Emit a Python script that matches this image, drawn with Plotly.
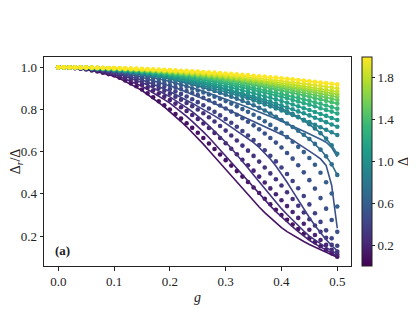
import plotly.graph_objects as go
from plotly.colors import sample_colorscale

g = [0.00, 0.01, 0.02, 0.03, 0.04, 0.05, 0.06, 0.07, 0.08, 0.09,
     0.10, 0.11, 0.12, 0.13, 0.14, 0.15, 0.16, 0.17, 0.18, 0.19,
     0.20, 0.21, 0.22, 0.23, 0.24, 0.25, 0.26, 0.27, 0.28, 0.29,
     0.30, 0.31, 0.32, 0.33, 0.34, 0.35, 0.36, 0.37, 0.38, 0.39,
     0.40, 0.41, 0.42, 0.43, 0.44, 0.45, 0.46, 0.47, 0.48, 0.49, 0.50]

delta = [0.1, 0.2, 0.3, 0.4, 0.5, 0.6, 0.7, 0.8, 0.9, 1.0,
         1.1, 1.2, 1.3, 1.4, 1.5, 1.6, 1.7, 1.8, 1.9, 2.0]

# numerical results (dots), one list per Delta
d01 = [1.000,1.000,0.998,0.996,0.993,0.990,0.985,0.980,0.974,0.968,0.962,0.951,0.938,0.924,0.910,0.895,0.877,0.858,0.839,0.820,0.800,0.779,0.757,0.735,0.713,0.690,0.665,0.639,0.613,0.587,0.560,0.534,0.508,0.482,0.456,0.430,0.404,0.377,0.351,0.325,0.300,0.277,0.255,0.233,0.211,0.190,0.171,0.152,0.135,0.118,0.102]
d02 = [1.000,1.000,0.999,0.997,0.995,0.993,0.989,0.985,0.980,0.974,0.968,0.960,0.951,0.941,0.930,0.918,0.904,0.890,0.876,0.861,0.845,0.828,0.811,0.793,0.774,0.755,0.734,0.712,0.689,0.665,0.640,0.614,0.588,0.562,0.536,0.510,0.482,0.454,0.426,0.398,0.370,0.342,0.314,0.286,0.258,0.230,0.205,0.181,0.158,0.135,0.112]
d03 = [1.000,1.000,0.999,0.998,0.996,0.994,0.991,0.988,0.984,0.979,0.974,0.968,0.961,0.953,0.944,0.935,0.925,0.914,0.902,0.889,0.875,0.861,0.846,0.831,0.816,0.800,0.782,0.763,0.743,0.722,0.700,0.677,0.653,0.629,0.605,0.580,0.553,0.525,0.497,0.469,0.440,0.408,0.376,0.344,0.312,0.280,0.250,0.220,0.192,0.158,0.126]
d04 = [1.000,1.000,0.999,0.998,0.997,0.995,0.993,0.990,0.986,0.982,0.978,0.973,0.967,0.960,0.953,0.945,0.936,0.927,0.918,0.908,0.897,0.886,0.874,0.862,0.849,0.835,0.820,0.805,0.789,0.772,0.755,0.737,0.718,0.698,0.677,0.655,0.632,0.607,0.581,0.554,0.525,0.494,0.461,0.427,0.390,0.350,0.308,0.267,0.227,0.189,0.154]
d05 = [1.000,1.000,0.999,0.998,0.997,0.996,0.994,0.992,0.989,0.986,0.982,0.978,0.973,0.967,0.961,0.955,0.948,0.940,0.932,0.924,0.915,0.906,0.897,0.888,0.878,0.868,0.856,0.844,0.832,0.819,0.805,0.790,0.775,0.759,0.742,0.725,0.706,0.686,0.665,0.643,0.620,0.594,0.567,0.536,0.502,0.465,0.425,0.380,0.330,0.276,0.220]
d06 = [1.000,1.000,0.999,0.999,0.998,0.997,0.995,0.993,0.991,0.988,0.985,0.981,0.977,0.973,0.968,0.963,0.957,0.951,0.945,0.939,0.932,0.924,0.916,0.908,0.899,0.890,0.881,0.871,0.861,0.851,0.840,0.828,0.815,0.802,0.789,0.775,0.760,0.744,0.727,0.709,0.690,0.669,0.647,0.623,0.598,0.570,0.538,0.500,0.455,0.402,0.340]
d07 = [1.000,1.000,0.999,0.999,0.998,0.997,0.996,0.994,0.992,0.990,0.988,0.985,0.982,0.978,0.974,0.970,0.966,0.961,0.956,0.951,0.945,0.939,0.933,0.926,0.919,0.912,0.904,0.896,0.888,0.879,0.870,0.861,0.851,0.841,0.831,0.820,0.808,0.795,0.781,0.766,0.750,0.734,0.717,0.699,0.680,0.660,0.637,0.610,0.578,0.540,0.490]
d08 = [1.000,1.000,1.000,0.999,0.999,0.998,0.997,0.995,0.994,0.992,0.990,0.988,0.985,0.982,0.979,0.975,0.971,0.967,0.964,0.960,0.955,0.950,0.945,0.940,0.934,0.928,0.922,0.915,0.909,0.902,0.895,0.887,0.879,0.871,0.863,0.855,0.846,0.836,0.826,0.816,0.805,0.792,0.779,0.765,0.748,0.730,0.710,0.688,0.662,0.630,0.590]
d09 = [1.000,1.000,0.999,0.999,0.998,0.997,0.995,0.994,0.992,0.990,0.987,0.984,0.982,0.978,0.975,0.971,0.967,0.963,0.958,0.954,0.949,0.943,0.938,0.932,0.926,0.920,0.913,0.906,0.899,0.892,0.884,0.877,0.869,0.860,0.852,0.843,0.834,0.824,0.815,0.805,0.795,0.784,0.774,0.763,0.751,0.740,0.728,0.716,0.704,0.692,0.679]
d10 = [1.000,1.000,1.000,0.999,0.998,0.997,0.996,0.994,0.993,0.991,0.989,0.986,0.984,0.981,0.978,0.975,0.971,0.967,0.963,0.959,0.955,0.950,0.945,0.940,0.935,0.930,0.924,0.918,0.912,0.905,0.898,0.892,0.884,0.877,0.870,0.862,0.854,0.846,0.837,0.828,0.820,0.810,0.801,0.791,0.782,0.772,0.761,0.751,0.740,0.729,0.718]
d11 = [1.000,1.000,1.000,0.999,0.998,0.998,0.996,0.995,0.994,0.992,0.990,0.988,0.986,0.983,0.980,0.978,0.974,0.971,0.968,0.964,0.960,0.956,0.952,0.947,0.942,0.938,0.932,0.927,0.922,0.916,0.910,0.904,0.898,0.891,0.884,0.878,0.870,0.863,0.856,0.848,0.840,0.832,0.824,0.815,0.806,0.798,0.788,0.779,0.770,0.760,0.750]
d12 = [1.000,1.000,1.000,0.999,0.999,0.998,0.997,0.996,0.994,0.993,0.991,0.989,0.987,0.985,0.983,0.980,0.978,0.975,0.972,0.968,0.965,0.961,0.958,0.954,0.950,0.945,0.941,0.936,0.931,0.926,0.921,0.916,0.910,0.905,0.899,0.893,0.886,0.880,0.874,0.867,0.860,0.853,0.845,0.838,0.830,0.823,0.815,0.806,0.798,0.790,0.781]
d13 = [1.000,1.000,1.000,0.999,0.999,0.998,0.997,0.996,0.995,0.994,0.992,0.991,0.989,0.987,0.985,0.982,0.980,0.977,0.975,0.972,0.969,0.965,0.962,0.959,0.955,0.951,0.947,0.943,0.939,0.934,0.929,0.925,0.920,0.915,0.909,0.904,0.898,0.893,0.887,0.881,0.875,0.868,0.862,0.855,0.848,0.841,0.834,0.827,0.819,0.812,0.804]
d14 = [1.000,1.000,1.000,0.999,0.999,0.998,0.998,0.997,0.996,0.994,0.993,0.992,0.990,0.988,0.987,0.985,0.982,0.980,0.978,0.975,0.972,0.970,0.967,0.964,0.960,0.957,0.953,0.950,0.946,0.942,0.938,0.934,0.930,0.925,0.920,0.916,0.911,0.906,0.901,0.895,0.890,0.884,0.879,0.873,0.867,0.861,0.854,0.848,0.841,0.835,0.828]
d15 = [1.000,1.000,1.000,0.999,0.999,0.998,0.998,0.997,0.996,0.995,0.994,0.993,0.991,0.990,0.988,0.986,0.984,0.982,0.980,0.978,0.975,0.973,0.970,0.967,0.964,0.961,0.958,0.955,0.951,0.948,0.944,0.940,0.937,0.932,0.928,0.924,0.920,0.915,0.910,0.906,0.901,0.896,0.891,0.885,0.880,0.874,0.869,0.863,0.857,0.851,0.845]
d16 = [1.000,1.000,1.000,0.999,0.999,0.999,0.998,0.997,0.996,0.995,0.994,0.993,0.992,0.990,0.989,0.987,0.986,0.984,0.982,0.980,0.977,0.975,0.973,0.970,0.968,0.965,0.962,0.959,0.956,0.953,0.949,0.946,0.942,0.939,0.935,0.931,0.927,0.923,0.919,0.914,0.910,0.905,0.901,0.896,0.891,0.886,0.881,0.875,0.870,0.865,0.859]
d17 = [1.000,1.000,1.000,1.000,0.999,0.999,0.998,0.997,0.997,0.996,0.995,0.994,0.993,0.991,0.990,0.988,0.987,0.985,0.983,0.982,0.980,0.977,0.975,0.973,0.971,0.968,0.965,0.963,0.960,0.957,0.954,0.951,0.948,0.944,0.941,0.937,0.934,0.930,0.926,0.922,0.918,0.914,0.910,0.905,0.901,0.896,0.892,0.887,0.882,0.877,0.872]
d18 = [1.000,1.000,1.000,1.000,0.999,0.999,0.998,0.998,0.997,0.996,0.995,0.994,0.993,0.992,0.991,0.990,0.988,0.987,0.985,0.983,0.981,0.980,0.978,0.975,0.973,0.971,0.969,0.966,0.964,0.961,0.958,0.955,0.952,0.949,0.946,0.943,0.940,0.936,0.933,0.929,0.926,0.922,0.918,0.914,0.910,0.906,0.902,0.898,0.893,0.889,0.884]
d19 = [1.000,1.000,1.000,1.000,0.999,0.999,0.999,0.998,0.997,0.997,0.996,0.995,0.994,0.993,0.992,0.991,0.990,0.988,0.987,0.986,0.984,0.982,0.981,0.979,0.977,0.975,0.973,0.971,0.969,0.966,0.964,0.962,0.959,0.956,0.954,0.951,0.948,0.945,0.942,0.939,0.936,0.933,0.929,0.926,0.923,0.919,0.915,0.912,0.908,0.904,0.900]
d20 = [1.000,1.000,1.000,1.000,0.999,0.999,0.999,0.998,0.998,0.997,0.997,0.996,0.995,0.995,0.994,0.993,0.992,0.991,0.990,0.988,0.987,0.986,0.984,0.983,0.981,0.980,0.978,0.976,0.975,0.973,0.971,0.969,0.967,0.965,0.963,0.960,0.958,0.956,0.953,0.951,0.948,0.946,0.943,0.940,0.937,0.934,0.931,0.928,0.925,0.922,0.919]

# theory curves (solid lines) where they differ from the dots
l01 = [1.000,1.000,0.998,0.996,0.993,0.990,0.985,0.979,0.973,0.966,0.958,0.947,0.934,0.920,0.905,0.890,0.872,0.853,0.833,0.812,0.790,0.767,0.743,0.718,0.692,0.665,0.636,0.606,0.576,0.546,0.515,0.484,0.453,0.423,0.394,0.365,0.338,0.311,0.286,0.262,0.240,0.221,0.204,0.189,0.174,0.160,0.147,0.134,0.122,0.111,0.100]
l02 = [1.000,1.000,0.999,0.997,0.995,0.993,0.989,0.984,0.978,0.972,0.965,0.955,0.944,0.932,0.921,0.910,0.895,0.880,0.864,0.847,0.830,0.810,0.789,0.767,0.744,0.720,0.694,0.667,0.639,0.610,0.580,0.550,0.520,0.490,0.460,0.430,0.400,0.371,0.343,0.316,0.290,0.266,0.243,0.221,0.200,0.180,0.163,0.148,0.133,0.119,0.105]
l03 = [1.000,1.000,0.999,0.998,0.996,0.994,0.991,0.987,0.982,0.977,0.972,0.965,0.957,0.948,0.938,0.928,0.916,0.903,0.889,0.875,0.860,0.844,0.827,0.809,0.790,0.770,0.747,0.723,0.698,0.672,0.645,0.616,0.586,0.555,0.523,0.490,0.457,0.424,0.391,0.360,0.330,0.302,0.275,0.249,0.224,0.200,0.181,0.163,0.146,0.130,0.115]
l04 = [1.000,1.000,0.999,0.998,0.997,0.995,0.992,0.989,0.985,0.981,0.977,0.971,0.964,0.957,0.949,0.940,0.930,0.920,0.909,0.897,0.885,0.872,0.858,0.844,0.830,0.815,0.801,0.786,0.770,0.753,0.735,0.718,0.700,0.682,0.663,0.643,0.620,0.594,0.565,0.532,0.495,0.455,0.413,0.370,0.328,0.288,0.250,0.215,0.183,0.155,0.130]
l05 = [1.000,1.000,0.999,0.998,0.997,0.996,0.994,0.991,0.988,0.985,0.981,0.976,0.971,0.966,0.960,0.953,0.945,0.937,0.929,0.921,0.912,0.903,0.893,0.883,0.873,0.862,0.851,0.840,0.829,0.817,0.805,0.793,0.781,0.769,0.757,0.745,0.733,0.721,0.709,0.697,0.685,0.670,0.655,0.639,0.622,0.603,0.585,0.566,0.535,0.440,0.237]
l06 = [1.000,1.000,0.999,0.999,0.998,0.997,0.995,0.993,0.991,0.988,0.985,0.981,0.977,0.973,0.968,0.963,0.957,0.952,0.946,0.940,0.933,0.926,0.919,0.911,0.903,0.895,0.886,0.877,0.868,0.859,0.850,0.840,0.830,0.820,0.810,0.800,0.789,0.778,0.767,0.756,0.745,0.733,0.721,0.709,0.697,0.685,0.672,0.659,0.645,0.620,0.576]

dots = [d01, d02, d03, d04, d05, d06, d07, d08, d09, d10,
        d11, d12, d13, d14, d15, d16, d17, d18, d19, d20]
lines = [l01, l02, l03, l04, l05, l06, d07, d08, d09, d10,
         d11, d12, d13, d14, d15, d16, d17, d18, d19, d20]

cmin, cmax = 0.0, 2.0
colors = sample_colorscale("Viridis", [(d - cmin) / (cmax - cmin) for d in delta])

fig = go.Figure()
for dl, yl, yd, c in zip(delta, lines, dots, colors):
    fig.add_trace(go.Scatter(x=g, y=yl, mode="lines", line=dict(color=c, width=1.6),
                             showlegend=False, hoverinfo="skip"))
    fig.add_trace(go.Scatter(x=g, y=yd, mode="markers",
                             marker=dict(color=c, size=4.6, line=dict(width=0)),
                             showlegend=False, name=f"Δ={dl}"))

font_family = "Liberation Serif"
fs = 13

fig.add_trace(go.Scatter(
    x=[None], y=[None], mode="markers", showlegend=False, hoverinfo="skip",
    marker=dict(color=[cmin, cmax], colorscale="Viridis", cmin=cmin, cmax=cmax,
                showscale=True,
                colorbar=dict(thickness=10, len=1.0, lenmode="fraction", y=0.5, yanchor="middle",
                              x=1.036, xanchor="left", xpad=0, ypad=0,
                              outlinewidth=1, outlinecolor="#222",
                              tickvals=[0.2, 0.6, 1.0, 1.4, 1.8],
                              ticktext=["0.2", "0.6", "1.0", "1.4", "1.8"],
                              ticks="outside", ticklen=3, tickcolor="#222",
                              tickfont=dict(family=font_family, size=fs, color="#222"),
                              title=dict(text="Δ", side="right",
                                         font=dict(family=font_family, size=14, color="#222"))))))

# the page body adds an 8 px offset, so the figure is sized to the visible area
fig.update_layout(
    width=408, height=304,
    margin=dict(l=36, r=65, t=49, b=46, autoexpand=False),
    paper_bgcolor="white", plot_bgcolor="white",
    font=dict(family=font_family, size=fs, color="#222"),
    xaxis=dict(range=[-0.0256, 0.5246], tickvals=[0, 0.1, 0.2, 0.3, 0.4, 0.5],
               ticktext=["0.0", "0.1", "0.2", "0.3", "0.4", "0.5"],
               ticks="outside", ticklen=3.5, tickcolor="#222", automargin=False,
               tickfont=dict(family=font_family, size=fs, color="#222"),
               showline=True, linecolor="#222", linewidth=1, mirror=True,
               showgrid=False, zeroline=False,
               title=dict(text="<i>g</i>", standoff=4,
                          font=dict(family=font_family, size=14, color="#222"))),
    yaxis=dict(range=[0.058, 1.049], tickvals=[0.2, 0.4, 0.6, 0.8, 1.0],
               ticktext=["0.2", "0.4", "0.6", "0.8", "1.0"],
               ticks="outside", ticklen=3.5, tickcolor="#222", automargin=False,
               tickfont=dict(family=font_family, size=fs, color="#222"),
               showline=True, linecolor="#222", linewidth=1, mirror=True,
               showgrid=False, zeroline=False,
               title=dict(text="Δ<sub><i>r</i></sub>/Δ", standoff=4,
                          font=dict(family=font_family, size=14, color="#222"))),
    annotations=[dict(text="<b>(a)</b>", xref="paper", yref="paper", x=0.029, y=0.072,
                      xanchor="left", yanchor="middle", showarrow=False,
                      font=dict(family=font_family, size=fs, color="#222"))],
)

fig.write_html("out.html")
